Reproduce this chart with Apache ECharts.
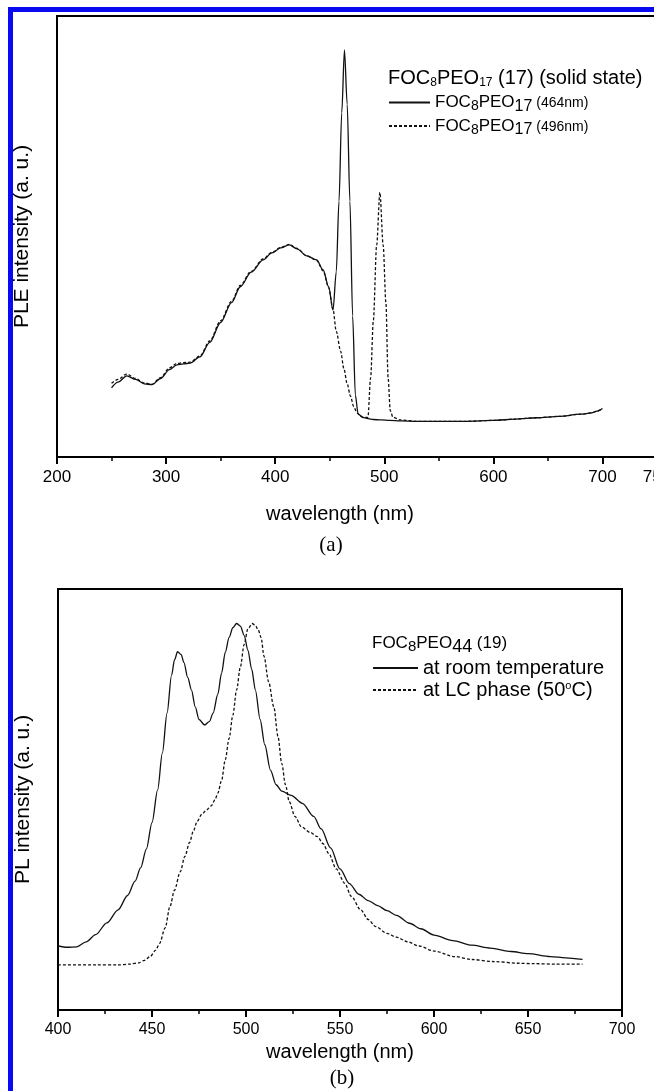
<!DOCTYPE html>
<html>
<head>
<meta charset="utf-8">
<script src="https://cdn.jsdelivr.net/npm/echarts@6/dist/echarts.min.js"></script>
<style>
html, body { margin: 0; padding: 0; background: #fff; }
#chart { width: 654px; height: 1091px; }
</style>
</head>
<body>
<div id="chart"></div>
<script>
// (a) PLE spectra, solid state, monitored at 464 nm and 496 nm
const pleWl464 = [250, 256, 264, 272, 280, 287, 295, 303, 310, 316, 322, 331, 340, 350, 360, 368, 378, 389, 397, 405, 413, 420, 429, 438, 444, 449, 453, 456, 458.5, 461, 463.5, 466, 468.5, 471, 473.5, 476, 480, 485, 490, 497, 505, 515, 530, 550, 575, 600, 620, 640, 660, 680, 690, 695, 700];
const pleVal464 = [15.7, 17.0, 18.4, 17.6, 16.6, 16.4, 17.8, 19.8, 20.9, 21.1, 21.3, 22.7, 26.0, 30.5, 35.0, 38.6, 41.9, 44.7, 46.3, 47.4, 48.1, 47.2, 45.6, 44.7, 42.4, 38.6, 33.3, 42, 58, 78, 92.3, 80, 58, 32, 14, 9.8, 9.0, 8.7, 8.5, 8.4, 8.3, 8.2, 8.1, 8.1, 8.1, 8.3, 8.6, 8.9, 9.2, 9.7, 10.0, 10.4, 11.0];

const pleWl496 = [250, 256, 264, 272, 280, 287, 295, 303, 310, 316, 322, 331, 340, 350, 360, 368, 378, 389, 397, 405, 413, 420, 429, 438, 444, 449, 453, 456, 460, 463, 466, 469, 472, 475, 478, 481, 485, 487.5, 490, 493, 496, 499, 501.5, 503.5, 505.5, 508, 515, 530, 550, 575, 600, 620, 640, 660, 680, 690, 695, 700];
const pleVal496 = [16.7, 17.6, 18.8, 17.8, 16.8, 16.5, 18.0, 20.2, 21.2, 21.4, 21.5, 22.9, 26.3, 30.9, 35.3, 38.9, 42.1, 44.9, 46.4, 47.5, 48.2, 47.3, 45.6, 44.6, 42.2, 38.4, 33.5, 28.5, 24.0, 20.0, 16.6, 13.8, 11.4, 10.0, 9.3, 9.0, 9.0, 18, 31, 48, 60, 48, 35, 18, 10.5, 9.0, 8.4, 8.1, 8.1, 8.1, 8.3, 8.6, 8.9, 9.2, 9.7, 10.0, 10.4, 11.0];

// (b) PL spectra of FOC8PEO44 (19)
const plWlRoom = [400, 405, 410, 415, 420, 426, 432, 437, 441, 444, 447, 450, 453, 455.5, 458, 460.4, 462, 463.6, 465.5, 467, 469, 471, 473, 475, 478, 480.5, 482.5, 485, 487, 489, 491, 493, 495, 497, 499, 501, 503, 505, 507.5, 510, 513, 516, 519, 524, 530, 536, 540, 545, 550, 555, 560, 565, 570, 575, 580, 587, 593, 600, 610, 620, 630, 641, 650, 662, 670, 679];
const plValRoom = [15.2, 14.9, 15.0, 16.2, 17.9, 20.7, 23.8, 27.2, 30.6, 33.8, 38.2, 44.5, 52.3, 61, 70.5, 79.5, 83.2, 85.1, 84.4, 82.5, 79, 76, 72, 69, 67.7, 68.5, 70.5, 75, 80, 85, 88.5, 90.8, 91.8, 91.2, 89.0, 85.5, 81, 76, 69, 63, 57, 53.5, 52, 51, 49.1, 46, 43, 38.5, 33.5, 30, 27.5, 26, 24.8, 23.6, 22.5, 20.6, 19.3, 17.8, 16.5, 15.4, 14.7, 13.9, 13.4, 12.7, 12.4, 12.0];

const plWlLC = [400, 420, 432, 438, 443, 446, 449, 452, 454, 457, 459.5, 462, 465, 467.5, 470, 472, 474, 476.5, 479, 481.5, 483.5, 485, 487, 489, 491, 493, 495, 497, 499, 501, 503.3, 505, 506.5, 508, 509.6, 512, 514.8, 517, 519, 521, 523, 526, 529.5, 534, 538, 541, 544, 548, 552.5, 556, 561, 565, 569, 575, 580, 586, 592, 600, 611, 620, 632, 645, 653, 665, 679];
const plValLC = [10.7, 10.7, 10.7, 10.9, 11.2, 11.8, 12.7, 14.2, 15.8, 19.5, 24.5, 28.5, 32.8, 36.5, 39.8, 42.5, 44.8, 46.5, 47.5, 48.5, 49.9, 51.5, 54.5, 59.5, 64.5, 70, 76, 81.5, 86.8, 90.5, 91.8, 91.3, 90.3, 88.5, 84, 78, 72, 65, 58.6, 53.5, 49.5, 46, 43.5, 42.2, 41.2, 39.5, 37.2, 33.5, 30.1, 27, 23.8, 21.5, 19.8, 18.2, 17.3, 16.2, 15.2, 14, 12.7, 12, 11.5, 11.1, 11.0, 10.9, 10.9];

const SANS = 'Arial, "Liberation Sans", sans-serif';
const SERIF = '"Times New Roman", "Liberation Serif", serif';
const INK = '#111';

function pairs(xs, ys) {
  return xs.map((x, i) => [x, ys[i]]);
}

// legend labels with subscripts
const legendNames = {
  p464: '{m|FOC}{s|8}{m|PEO}{t|17}{n| (464nm)}',
  p496: '{m|FOC}{s|8}{m|PEO}{t|17}{n| (496nm)}',
  rt: '{m|at room temperature}',
  lc: '{m|at LC phase (50}{u|o}{m|C)}'
};

function curve(name, data, idx, dashed) {
  return {
    name,
    type: 'line',
    xAxisIndex: idx === 0 ? 0 : 2,
    yAxisIndex: idx,
    data,
    showSymbol: false,
    symbol: 'none',
    smooth: 0.3,
    smoothMonotone: 'x',
    lineStyle: { color: INK, width: 1.3, type: dashed ? [3, 2] : 'solid' },
    itemStyle: { color: INK },
    animation: false
  };
}

function valueAxis(grid, min, max, interval, extra) {
  return Object.assign({
    type: 'value',
    gridIndex: grid,
    min, max, interval,
    position: 'bottom',
    axisLine: { show: true, onZero: false, lineStyle: { color: '#000', width: 2 } },
    axisTick: { show: true, length: 7, lineStyle: { color: '#000', width: 2 } },
    axisLabel: { show: true, margin: 12, color: '#000', fontSize: 17, fontFamily: SANS },
    splitLine: { show: false }
  }, extra || {});
}

const chart = echarts.init(document.getElementById('chart'), null, { renderer: 'canvas' });

chart.setOption({
  backgroundColor: '#fff',
  animation: false,
  grid: [
    { left: 57, top: 16, right: -3, bottom: 634, outerBoundsMode: 'none', show: true, borderColor: '#000', borderWidth: 2, backgroundColor: 'transparent' },
    { left: 58, top: 589, right: 32, bottom: 81, outerBoundsMode: 'none', show: true, borderColor: '#000', borderWidth: 2, backgroundColor: 'transparent' }
  ],
  xAxis: [
    valueAxis(0, 200, 750, 100),
    valueAxis(0, 200, 750, 50, {
      axisLine: { show: false },
      axisTick: { show: true, length: 4, lineStyle: { color: '#000', width: 1.5 } },
      axisLabel: { show: false }
    }),
    valueAxis(1, 400, 700, 50, {
      axisLabel: { show: true, margin: 12, color: '#000', fontSize: 16, fontFamily: SANS },
      minorTick: { show: true, splitNumber: 2, length: 4, lineStyle: { color: '#000', width: 1.5 } },
      name: 'wavelength (nm)',
      nameLocation: 'middle',
      nameGap: 32,
      nameTextStyle: { color: '#000', fontSize: 20, fontFamily: SANS }
    })
  ],
  yAxis: [0, 1].map(i => ({
    type: 'value',
    gridIndex: i,
    min: 0,
    max: 100,
    axisLine: { show: true, lineStyle: { color: '#000', width: 2 } },
    axisTick: { show: false },
    axisLabel: { show: false },
    splitLine: { show: false },
    name: i === 0 ? 'PLE intensity (a. u.)' : 'PL intensity (a. u.)',
    nameLocation: 'middle',
    nameGap: 24,
    nameTextStyle: { color: '#000', fontSize: 21, fontFamily: SANS }
  })),
  legend: [
    {
      data: ['p464', 'p496'],
      orient: 'vertical',
      left: 388,
      top: 94,
      padding: 0,
      itemWidth: 41,
      itemHeight: 10,
      itemGap: 3,
      itemStyle: { opacity: 0 },
      formatter: n => legendNames[n],
      textStyle: {
        color: '#000', fontFamily: SANS,
        rich: {
          m: { fontSize: 17, fontFamily: SANS, color: '#000' },
          s: { fontSize: 14, fontFamily: SANS, color: '#000', padding: [8, 0, 0, 0] },
          t: { fontSize: 16, fontFamily: SANS, color: '#000', padding: [8, 0, 0, 0] },
          n: { fontSize: 14, fontFamily: SANS, color: '#000', padding: [2, 0, 0, 0] }
        }
      }
    },
    {
      data: ['rt', 'lc'],
      orient: 'vertical',
      left: 372,
      top: 658,
      padding: 0,
      itemWidth: 45,
      itemHeight: 10,
      itemGap: 2,
      itemStyle: { opacity: 0 },
      formatter: n => legendNames[n],
      textStyle: {
        color: '#000', fontFamily: SANS,
        rich: {
          m: { fontSize: 20, fontFamily: SANS, color: '#000' },
          u: { fontSize: 11, fontFamily: SANS, color: '#000', padding: [0, 0, 9, 0] }
        }
      }
    }
  ],
  graphic: [
    // blue frame of the figure
    { type: 'rect', shape: { x: 8, y: 7, width: 5, height: 1084 }, style: { fill: '#0a0af0' }, silent: true },
    { type: 'rect', shape: { x: 8, y: 7, width: 646, height: 5 }, style: { fill: '#0a0af0' }, silent: true },
    {
      type: 'text', left: 388, top: 68, silent: true,
      style: {
        text: '{m|FOC}{s|8}{m|PEO}{s|17}{m| (17) (solid state)}',
        rich: {
          m: { fontSize: 20, fontFamily: SANS, fill: '#000' },
          s: { fontSize: 12, fontFamily: SANS, fill: '#000', padding: [9, 0, 0, 0] }
        }
      }
    },
    {
      type: 'text', left: 372, top: 635, silent: true,
      style: {
        text: '{m|FOC}{s|8}{m|PEO}{t|44}{m| (19)}',
        rich: {
          m: { fontSize: 17, fontFamily: SANS, fill: '#000' },
          s: { fontSize: 15, fontFamily: SANS, fill: '#000', padding: [7, 0, 0, 0] },
          t: { fontSize: 18, fontFamily: SANS, fill: '#000', padding: [7, 0, 0, 0] }
        }
      }
    },
    {
      type: 'text', x: 340, y: 514, silent: true,
      style: { text: 'wavelength (nm)', fontSize: 20, fontFamily: SANS, fill: '#000', align: 'center', verticalAlign: 'middle' }
    },
    {
      type: 'text', x: 331, y: 545, silent: true,
      style: { text: '(a)', fontSize: 21, fontFamily: SERIF, fill: '#000', align: 'center', verticalAlign: 'middle' }
    },
    {
      type: 'text', x: 342, y: 1078, silent: true,
      style: { text: '(b)', fontSize: 21, fontFamily: SERIF, fill: '#000', align: 'center', verticalAlign: 'middle' }
    }
  ],
  series: [
    curve('p464', pairs(pleWl464, pleVal464), 0, false),
    curve('p496', pairs(pleWl496, pleVal496), 0, true),
    curve('rt', pairs(plWlRoom, plValRoom), 1, false),
    curve('lc', pairs(plWlLC, plValLC), 1, true)
  ]
});
</script>
</body>
</html>
